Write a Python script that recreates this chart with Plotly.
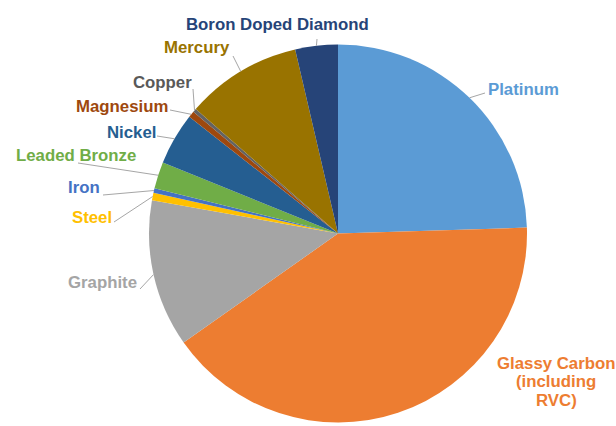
import math
import plotly.graph_objects as go

# ---- data (percent share) ----
materials = ["Platinum", "Glassy Carbon (including RVC)", "Graphite", "Steel", "Iron",
             "Leaded Bronze", "Nickel", "Magnesium", "Copper", "Mercury",
             "Boron Doped Diamond"]
shares = [24.5, 40.7, 12.6, 0.64, 0.39, 2.28, 4.46, 0.54, 0.31, 9.92, 3.64]
colors = ["#5B9BD5", "#ED7D31", "#A5A5A5", "#FFC000", "#4472C4", "#70AD47",
          "#255E91", "#9E480E", "#636363", "#997300", "#264478"]
label_text = ["Platinum", "Glassy Carbon<br>(including<br>RVC)", "Graphite", "Steel", "Iron",
              "Leaded Bronze", "Nickel", "Magnesium", "Copper", "Mercury",
              "Boron Doped Diamond"]
label_colors = ["#5B9BD5", "#ED7D31", "#A5A5A5", "#FFC000", "#4472C4", "#70AD47",
                "#255E91", "#9E480E", "#595959", "#997300", "#264478"]

# ---- layout geometry (pixels) ----
W, H = 616, 426
cx, cy, r = 338, 233.5, 189
FS = 16.8
LINE = 18.5
# label centre positions and leader-line start points (pixels)
label_pos = [(523, 89), (556, 381.5), (103, 282), (92, 217), (84, 188), (76, 156),
             (131, 132), (122, 106), (162, 82), (197, 48), (277, 24)]
leader_start = [(485, 93), None, (140, 289), (114, 222), (103, 195), (78, 163),
                (157, 136), (170, 110), (193, 89), (233, 56), (317, 39)]

fig = go.Figure(go.Pie(
    labels=materials, values=shares, sort=False, direction="clockwise", rotation=0,
    marker=dict(colors=colors, line=dict(width=0)),
    textinfo="none", hoverinfo="label+percent", showlegend=False,
    domain=dict(x=[(cx - r) / W, (cx + r) / W], y=[(H - cy - r) / H, (H - cy + r) / H]),
))

total = sum(shares)
cum = 0.0
shapes, annotations = [], []
for i, v in enumerate(shares):
    mid = 2 * math.pi * (cum + v / 2) / total
    cum += v
    ex = cx + r * math.sin(mid)
    ey = cy - r * math.cos(mid)
    lx, ly = label_pos[i]
    lines = label_text[i].split("<br>")
    n = len(lines)
    for k, line in enumerate(lines):
        yy = ly + (k - (n - 1) / 2) * LINE
        annotations.append(dict(
            x=lx / W, y=1 - yy / H, xref="paper", yref="paper", showarrow=False,
            text="<b>" + line + "</b>", align="center",
            font=dict(family="Liberation Sans, Arial, sans-serif", size=FS, color=label_colors[i]),
            xanchor="center", yanchor="middle"))
    if leader_start[i] is not None:
        sx, sy = leader_start[i]
        shapes.append(dict(type="line", xref="paper", yref="paper",
                           x0=sx / W, y0=1 - sy / H, x1=ex / W, y1=1 - ey / H,
                           line=dict(color="#A6A6A6", width=1)))

fig.update_layout(width=W, height=H, margin=dict(l=0, r=0, t=0, b=0),
                  paper_bgcolor="white", plot_bgcolor="white",
                  shapes=shapes, annotations=annotations)
fig.write_html("out.html")
